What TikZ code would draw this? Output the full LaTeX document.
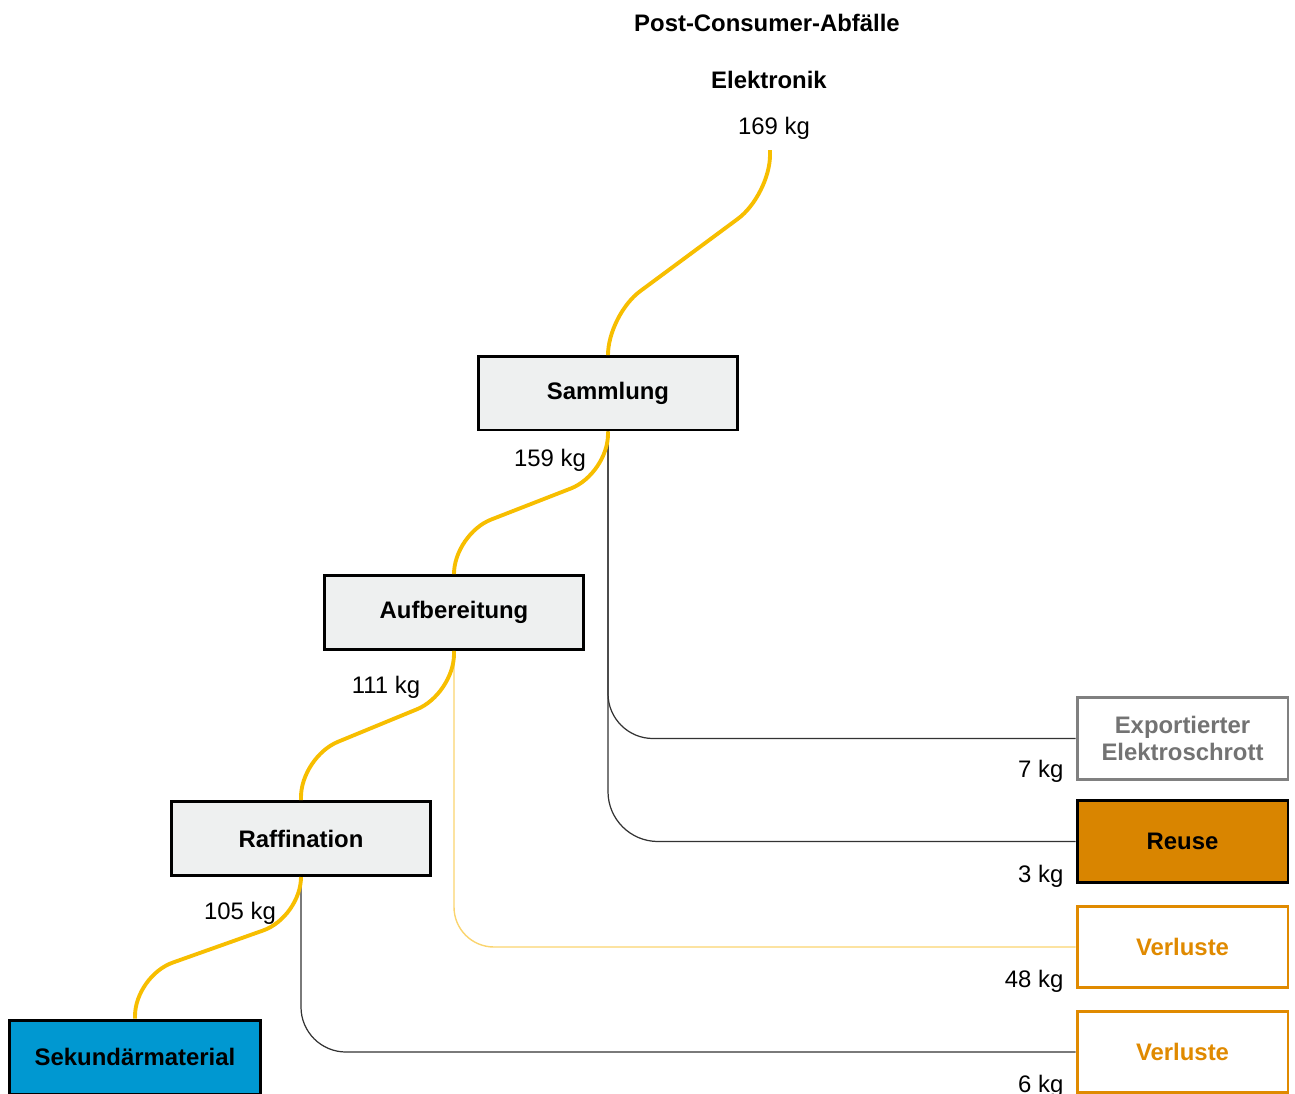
\documentclass[tikz,border=0pt]{standalone}
\usepackage{fontspec}
\setmainfont{Liberation Sans}
\usetikzlibrary{calc}
\definecolor{flowyellow}{RGB}{247,190,0}
\definecolor{lossyellow}{RGB}{250,212,110}
\definecolor{boxgray}{RGB}{238,240,240}
\definecolor{secblue}{RGB}{0,152,209}
\definecolor{reuseorange}{RGB}{217,133,0}
\definecolor{lossorange}{RGB}{224,138,0}
\definecolor{exportgray}{RGB}{128,128,128}

\begin{document}
\begin{tikzpicture}[x=0.02cm, y=-0.02cm,
    font=\fontsize{13.6}{15.5}\selectfont,
    proc/.style={draw=black, line width=1.7pt, fill=boxgray, font=\fontsize{13.6}{15.5}\selectfont\bfseries,
        minimum width=5.2cm, minimum height=1.48cm, inner sep=0pt},
    sink/.style={line width=1.7pt, font=\fontsize{13.6}{15.5}\selectfont\bfseries,
        minimum width=4.22cm, minimum height=1.63cm, inner sep=0pt, align=center},
    mainflow/.style={draw=flowyellow, line width=2.2pt, rounded corners=8mm},
    sideflow/.style={draw=black!80, line width=0.7pt},
    lossflow/.style={draw=lossyellow, line width=0.8pt},
    amount/.style={anchor=base east}]
    \useasboundingbox (0,0) rectangle (1295,1093);

    % Source
    \node [font=\fontsize{13.6}{15.5}\selectfont\bfseries] (title) at (767,23) {Post-Consumer-Abfälle};
    \node [font=\fontsize{13.6}{15.5}\selectfont\bfseries] (source) at (769,80) {Elektronik};
    \node (srcamount) at (774,128) {169 kg};
    \coordinate (srcout) at (770,150);

    % Process chain
    \node [proc] (samm) at (608,393) {Sammlung};
    \node [proc] (auf) at (454,612.5) {Aufbereitung};
    \node [proc] (raff) at (301,838.5) {Raffination};
    \node [proc, fill=secblue, minimum width=5.04cm] (sek) at (135,1057) {Sekundärmaterial};

    % Sinks on the right
    \node [sink, draw=exportgray, text=exportgray!90!black, fill=white] (expo) at (1182.5,738.5)
        {Exportierter\\Elektroschrott};
    \node [sink, draw=black, fill=reuseorange] (reuse) at (1182.5,841.5) {Reuse};
    \node [sink, draw=lossorange, text=lossorange, fill=white] (verlA) at (1182.5,947) {Verluste};
    \node [sink, draw=lossorange, text=lossorange, fill=white] (verlB) at (1182.5,1052) {Verluste};

    % Side flows
    \draw [sideflow, rounded corners=9mm] (samm.south) |- (expo.west);
    \draw [sideflow, rounded corners=10mm] (samm.south) |- (reuse.west);
    \draw [lossflow, rounded corners=8mm] (auf.south) |- (verlA.west);
    \draw [sideflow, rounded corners=9mm] (raff.south) |- (verlB.west);

    % Main material flow
    \draw [mainflow] (srcout) -- (770,195) -- (608,315) -- (samm.north);
    \draw [mainflow] (samm.south) -- (608,474) -- (454,534) -- (auf.north);
    \draw [mainflow] (auf.south) -- (454,694) -- (301,757) -- (raff.north);
    \draw [mainflow] (raff.south) -- (301,917) -- (135,976) -- (sek.north);

    % Amounts
    \node (m159) at (550,460) {159 kg};
    \node (m111) at (386,687) {111 kg};
    \node (m105) at (240,913) {105 kg};
    \node [amount] (m7) at ($(expo.south west)+(-6,-3)$) {7 kg};
    \node [amount] (m3) at ($(reuse.south west)+(-6,-1)$) {3 kg};
    \node [amount] (m48) at ($(verlA.south west)+(-6,-2)$) {48 kg};
    \node [amount] (m6) at ($(verlB.south west)+(-6,-2)$) {6 kg};
\end{tikzpicture}
\end{document}
